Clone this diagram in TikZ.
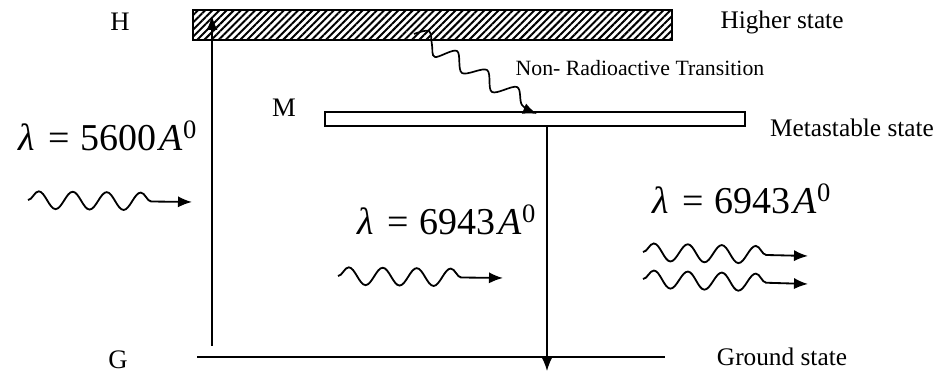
\documentclass[tikz,border=0pt]{standalone}
\usepackage{fontspec}
\setmainfont{Liberation Serif}
\usetikzlibrary{arrows.meta, patterns.meta, decorations.pathmorphing}
\newcommand{\wl}[1]{\textit{λ}\hspace{0.34em}=\hspace{0.3em}#1\hspace{0.08em}\textit{A}\textsuperscript{0}}

\begin{document}
\begin{tikzpicture}[x=0.025cm, y=-0.025cm,
        level/.style={draw, line width=1.4pt, inner sep=0pt, outer sep=0pt},
        lbl/.style={font=\fontsize{18}{21}\selectfont},
        sym/.style={font=\fontsize{19}{22}\selectfont},
        eqn/.style={font=\fontsize{27}{32}\selectfont},
        arrow/.style={-{Latex[length=0.35cm, width=0.28cm]}, line width=1pt},
        photon/.style={decorate, decoration={snake, segment length=0.85cm, amplitude=0.22cm, post length=0.65cm}, -{Latex[length=0.35cm, width=0.28cm]}, line width=1.3pt}
    ]
        \useasboundingbox (0,0) rectangle (943,373);
        % energy levels
        \node[level, minimum width=11.975cm, minimum height=0.75cm,
              pattern={Lines[angle=45, distance=3.6pt, line width=1.4pt]}] (higher) at (432.5,25) {};
        \node[level, fill=white, minimum width=10.5cm, minimum height=0.35cm] (meta) at (535,119) {};
        \coordinate (gL) at (197,357);
        \coordinate (gR) at (665,357);
        \draw[line width=2pt] (gL) -- (gR);
        % labels
        \node[sym] (H) at (120,22) {H};
        \node[sym] (M) at (284,108) {M};
        \node[sym] (G) at (118,360) {G};
        \node[lbl] (hilbl) at (782,22) {Higher state};
        \node[lbl, font=\fontsize{15.5}{18}\selectfont] (nrlbl) at (640,68) {Non- Radioactive Transition};
        \node[lbl] (metalbl) at (852,128) {Metastable state};
        \node[lbl] (gndlbl) at (782,357) {Ground state};
        % pumping and laser transitions
        \coordinate (pumpS) at (212,346);
        \coordinate (pumpE) at (212,16);
        \draw[arrow] (pumpS) -- (pumpE);
        \coordinate (laserS) at (547,126);
        \coordinate (laserE) at (547,371);
        \draw[arrow] (laserS) -- (laserE);
        % non-radiative decay
        \draw[arrow, line width=1.2pt] plot[smooth, tension=0.55] coordinates {(414,34) (429,31) (432,45) (435,57) (457,51) (462,73) (487,70) (492,92) (517,87) (522,105) (537,114)};
        % photons
        \node[eqn] (lam1) at (108,136) {\wl{5600}};
        \coordinate (w1S) at (28,200);
        \coordinate (w1E) at (192,202);
        \draw[photon] (w1S) -- (w1E);
        \node[eqn] (lam2) at (447,220) {\wl{6943}};
        \coordinate (w2S) at (338,276);
        \coordinate (w2E) at (503,278);
        \draw[photon] (w2S) -- (w2E);
        \node[eqn] (lam3) at (742,199) {\wl{6943}};
        \coordinate (w3S) at (643,252);
        \coordinate (w3E) at (808,256);
        \draw[photon] (w3S) -- (w3E);
        \coordinate (w4S) at (643,279);
        \coordinate (w4E) at (808,284);
        \draw[photon] (w4S) -- (w4E);
    \end{tikzpicture}
\end{document}
